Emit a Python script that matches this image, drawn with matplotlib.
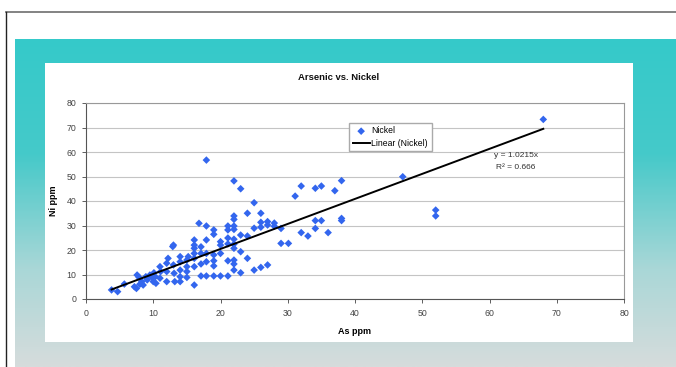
"""
Arsenic vs. Nickel scatter with linear trend line, drawn on a teal slide panel
"""

import matplotlib.pyplot as plt
import numpy as np
from matplotlib.colors import LinearSegmentedColormap
from matplotlib.patches import Rectangle

plt.rcParams["font.family"] = ["Liberation Sans", "DejaVu Sans"]

# Sample values (As ppm, Ni ppm)
as_ppm = [
    3.8, 4.7, 5.7, 7.2, 7.5, 7.6, 7.9, 8.0, 8.3, 8.5, 8.9, 9.1, 9.5, 9.8, 10.0,
    10.1, 10.3, 10.4, 11.0, 11.1, 11.0, 12.0, 12.0, 12.0, 12.2, 12.9, 13.0, 13.0,
    13.1, 13.2, 14.0, 14.0, 14.0, 14.0, 14.0, 15.0, 15.0, 15.0, 15.0, 15.2, 16.1,
    16.1, 16.1, 16.1, 16.1, 16.1, 16.1, 16.8, 17.1, 17.1, 17.1, 17.1, 17.9, 17.9,
    17.9, 17.9, 17.9, 17.9, 19.0, 19.0, 19.0, 19.0, 19.0, 19.0, 20.0, 20.0, 20.0,
    20.0, 21.1, 21.1, 21.1, 21.1, 21.1, 21.1, 22.0, 22.0, 22.0, 22.0, 22.0, 22.0,
    22.0, 22.0, 22.0, 22.0, 22.0, 23.0, 23.0, 23.0, 23.0, 24.0, 24.0, 24.0, 25.0,
    25.0, 25.0, 26.0, 26.0, 26.0, 26.0, 27.0, 27.0, 27.0, 28.0, 28.0, 29.0, 29.0,
    30.1, 31.1, 32.0, 32.0, 33.0, 34.1, 34.1, 34.1, 35.0, 35.0, 36.0, 37.0, 38.0,
    38.0, 38.0, 47.1, 52.0, 52.0, 68.0,
]
ni_ppm = [
    3.7, 3.0, 6.1, 5.0, 4.3, 9.8, 8.8, 6.0, 7.1, 5.7, 9.1, 7.8, 9.8, 8.8, 7.1,
    10.7, 9.1, 6.4, 13.2, 11.2, 8.5, 14.6, 11.2, 7.1, 16.6, 21.4, 22.0, 13.9,
    10.5, 7.1, 15.2, 11.8, 9.1, 7.1, 17.3, 15.9, 13.2, 11.2, 8.8, 17.3, 24.1,
    22.0, 20.7, 18.6, 16.6, 13.2, 5.7, 30.9, 21.3, 18.6, 14.3, 9.4, 56.7, 29.8,
    24.1, 18.6, 15.2, 9.4, 28.2, 26.4, 18.0, 15.6, 13.5, 9.4, 23.4, 22.0, 18.6,
    9.4, 29.8, 28.2, 24.9, 22.5, 15.6, 9.4, 48.2, 33.9, 32.5, 29.8, 28.4, 24.4,
    22.4, 20.7, 15.9, 14.3, 11.8, 45.0, 26.1, 19.3, 10.7, 35.0, 25.7, 16.6, 39.3,
    28.9, 11.8, 35.0, 31.3, 29.3, 12.9, 31.6, 30.2, 13.9, 31.0, 29.7, 28.8, 22.7,
    22.7, 42.0, 46.1, 27.1, 25.7, 45.2, 32.0, 28.8, 46.1, 32.0, 27.1, 44.2, 48.3,
    32.9, 32.0, 49.9, 36.3, 33.9, 73.3,
]

slope = 1.0215
r_squared = 0.666

x_ticks = [0, 10, 20, 30, 40, 50, 60, 70, 80]
y_ticks = [0, 10, 20, 30, 40, 50, 60, 70, 80]

W, H = 676, 367
fig = plt.figure(figsize=(W / 100, H / 100), dpi=100)

# Background slide: frame lines, teal gradient panel, white chart area
bg = fig.add_axes([0, 0, 1, 1])
bg.set_xlim(0, W)
bg.set_ylim(H, 0)
bg.axis("off")

bg.plot([6, W], [12, 12], color="#7a7a7a", lw=1.3)
bg.plot([6, 6], [12, H], color="#222222", lw=1.0)

teal = LinearSegmentedColormap.from_list(
    "teal", [(0.0, "#35caca"), (0.35, "#45c9c9"), (0.7, "#a9d7d7"), (1.0, "#d6dcdc")]
)
grad = np.linspace(0, 1, 256).reshape(-1, 1)
bg.imshow(grad, cmap=teal, aspect="auto", extent=[15, W, H, 39], zorder=1)
bg.add_patch(Rectangle((45, 63), 588, 279, facecolor="white", edgecolor="none", zorder=2))

bg.text(339, 77, "Arsenic vs. Nickel", ha="center", va="center",
        fontsize=6.8, fontweight="bold", color="#111111", zorder=3)

# Chart axes
ax = fig.add_axes([86 / W, 1 - 299 / H, (624 - 86) / W, (299 - 103) / H])
ax.set_facecolor("white")

ax.scatter(as_ppm, ni_ppm, marker="D", s=15, color="#3366ee",
           edgecolors="none", label="Nickel", zorder=3)

fit_x = np.array([min(as_ppm), max(as_ppm)])
ax.plot(fit_x, slope * fit_x, color="black", lw=1.4, label="Linear (Nickel)", zorder=4)

ax.set_xlim(0, 80)
ax.set_ylim(0, 80)
ax.set_xticks(x_ticks)
ax.set_yticks(y_ticks)
ax.tick_params(labelsize=6.3, colors="#444444", length=3, width=0.6, pad=4)
ax.yaxis.grid(True, color="#c4c4c4", lw=0.8)
ax.set_axisbelow(True)

for side in ["top", "right"]:
    ax.spines[side].set_color("#999999")
    ax.spines[side].set_linewidth(0.8)
for side in ["left", "bottom"]:
    ax.spines[side].set_color("#555555")
    ax.spines[side].set_linewidth(0.8)

ax.set_xlabel("As ppm", fontsize=6.5, fontweight="bold", labelpad=7)
ax.set_ylabel("Ni ppm", fontsize=6.5, fontweight="bold", labelpad=6)

ax.text(63.9, 58.4, f"y = {slope}x", ha="center", va="center", fontsize=6, color="#333333")
ax.text(63.9, 53.5, f"R² = {r_squared}", ha="center", va="center", fontsize=6, color="#333333")

ax.legend(loc="upper left", bbox_to_anchor=(0.489, 0.898), borderaxespad=0,
          fontsize=6.2, frameon=True, fancybox=False, framealpha=1,
          edgecolor="#aaaaaa", handlelength=2.0, handletextpad=0.2,
          borderpad=0.4, labelspacing=0.4)

fig.savefig("out.png", dpi=100)
